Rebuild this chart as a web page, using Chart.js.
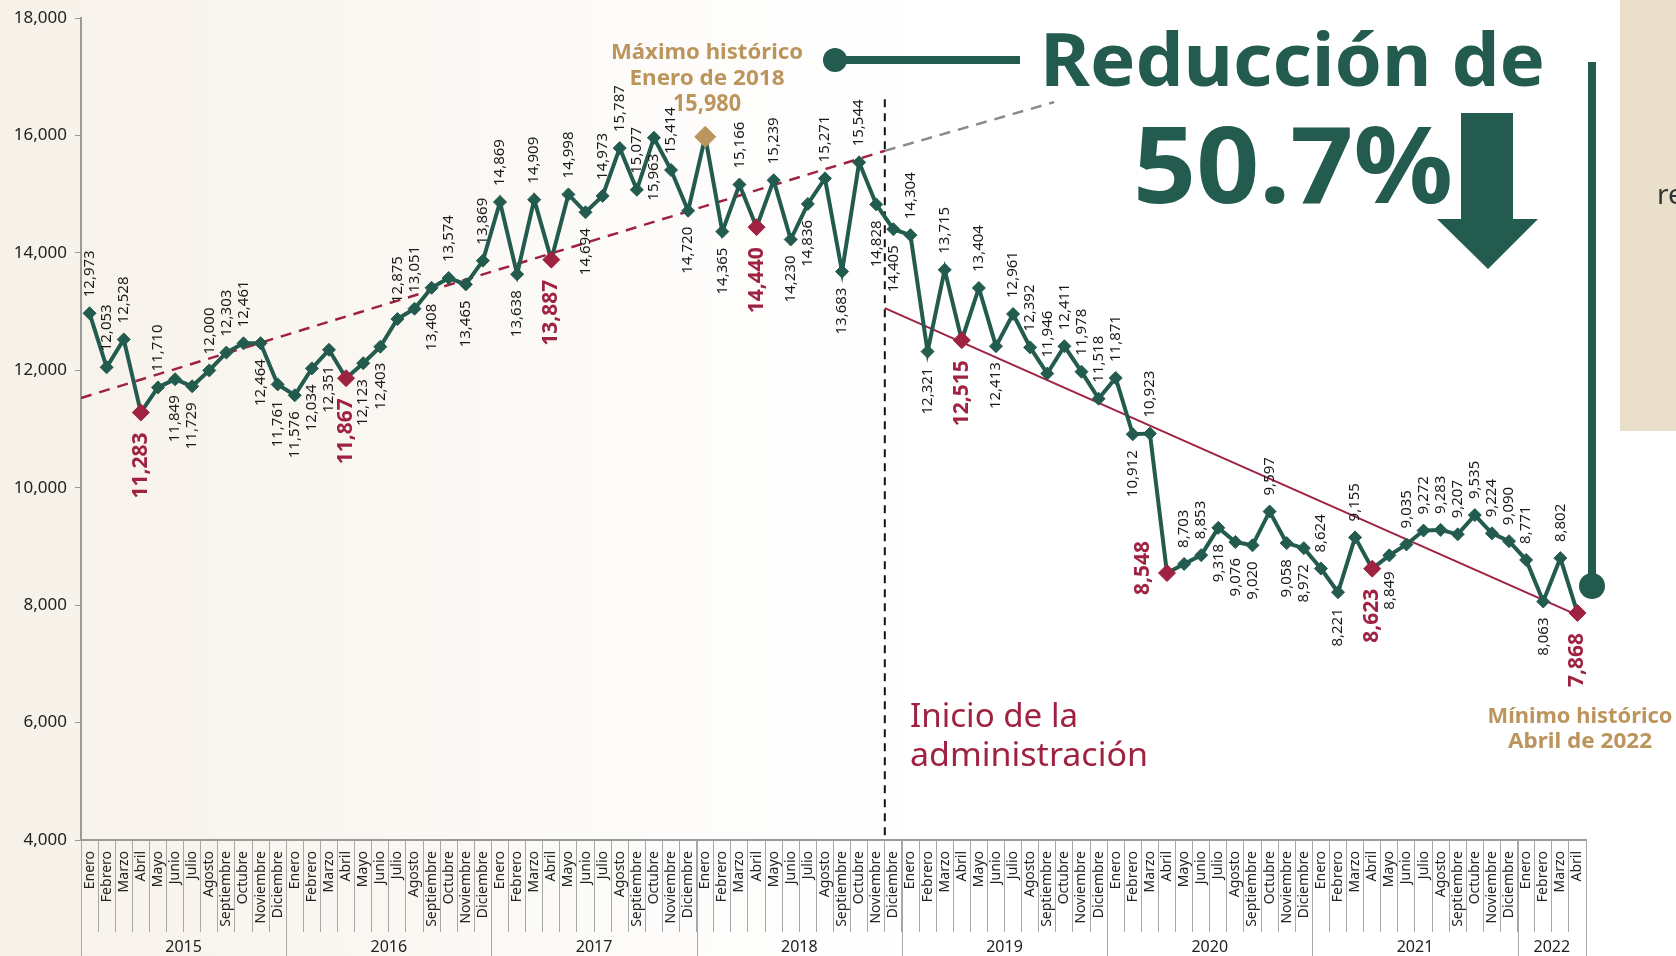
<!DOCTYPE html>
<html>
<head>
<meta charset="utf-8">
<script src="https://cdn.jsdelivr.net/npm/chart.js@4"></script>
<style>
  html, body { margin: 0; padding: 0; background: #fff; }
  #wrap { width: 1676px; height: 956px; }
</style>
</head>
<body>
<div id="wrap"><canvas id="grafica" width="1676" height="956"></canvas></div>
<script>
// datos mensuales, enero 2015 - abril 2022
var meses = ["Enero","Febrero","Marzo","Abril","Mayo","Junio","Julio","Agosto","Septiembre","Octubre","Noviembre","Diciembre"];
var anios = ["2015","2016","2017","2018","2019","2020","2021","2022"];
var v2015 = [12973,12053,12528,11283,11710,11849,11729,12000,12303,12461,12464,11761];
var v2016 = [11576,12034,12351,11867,12123,12403,12875,13051,13408,13574,13465,13869];
var v2017 = [14869,13638,14909,13887,14998,14694,14973,15787,15077,15963,15414,14720];
var v2018 = [15980,14365,15166,14440,15239,14230,14836,15271,13683,15544,14828,14405];
var v2019 = [14304,12321,13715,12515,13404,12413,12961,12392,11946,12411,11978,11518];
var v2020 = [11871,10912,10923,8548,8703,8853,9318,9076,9020,9597,9058,8972];
var v2021 = [8624,8221,9155,8623,8849,9035,9272,9283,9207,9535,9224,9090];
var v2022 = [8771,8063,8802,7868];
var yTicks = [4000,6000,8000,10000,12000,14000,16000,18000];

// lineas de tendencia (x = indice del mes)
var tendAntes = [{x:-0.5, y:11530}, {x:46.5, y:15740}];
var tendProyeccion = [{x:46.5, y:15740}, {x:56.4, y:16570}];
var tendDespues = [{x:46.5, y:13060}, {x:87, y:7830}];
var inicioAdmin = [{x:46.5, y:16620}, {x:46.5, y:4000}];

// donde va cada etiqueta: a = arriba, b = abajo, l = izquierda
var lado = ("aaababbaaab" + "b" +
            "bbbbbbaababa" +
            "abababaaabab" +
            "-bababbababb" +
            "abababaaaaaa" +
            "ababaabbbabb" +
            "ababbaaaaaaa" +
            "abab").split("");
lado[63] = "l";

var valores = [].concat(v2015, v2016, v2017, v2018, v2019, v2020, v2021, v2022);
var etiquetasX = [];
var tamAnio = [];
[v2015, v2016, v2017, v2018, v2019, v2020, v2021, v2022].forEach(function(arr) {
    tamAnio.push(arr.length);
    for (var i = 0; i < arr.length; i++) etiquetasX.push(meses[i]);
});

var VERDE = "#235B4E", ROJO = "#9F2241", ORO = "#BC955C";
var FUENTE = '"Noto Sans", "Open Sans", sans-serif';

function miles(n) { return String(n).replace(/\B(?=(\d{3})+(?!\d))/g, ","); }

var colores = [], radios = [];
valores.forEach(function(v, i) {
    if (i === 36) { colores.push(ORO); radios.push(10.5); }
    else if (i % 12 === 3) { colores.push(ROJO); radios.push(8.5); }
    else { colores.push(VERDE); radios.push(6.5); }
});

function textoAjustado(ctx, txt, x, y, ancho, font, color, align) {
    ctx.save();
    ctx.font = font;
    ctx.fillStyle = color;
    ctx.textBaseline = "alphabetic";
    ctx.textAlign = align || "left";
    var w = ctx.measureText(txt).width;
    ctx.translate(x, y);
    ctx.scale(ancho / w, 1);
    ctx.fillText(txt, 0, 0);
    ctx.restore();
}

var fondo = {
    id: "fondo",
    beforeDraw: function(chart) {
        var ctx = chart.ctx;
        ctx.save();
        ctx.fillStyle = "#ffffff";
        ctx.fillRect(0, 0, chart.width, chart.height);
        var g = ctx.createLinearGradient(0, 0, 1050, 0);
        g.addColorStop(0, "rgba(236,224,204,0.45)");
        g.addColorStop(0.5, "rgba(240,230,214,0.22)");
        g.addColorStop(1, "rgba(255,255,255,0)");
        ctx.fillStyle = g;
        ctx.fillRect(0, 0, 1050, chart.height);
        // panel beige derecho
        ctx.fillStyle = "#EADFCB";
        ctx.fillRect(1620, 0, 56, 431);
        ctx.fillStyle = "#333";
        ctx.font = "28px " + FUENTE;
        ctx.fillText("re", 1657, 204);
        ctx.restore();
    }
};

var etiquetas = {
    id: "etiquetas",
    afterDatasetsDraw: function(chart) {
        var ctx = chart.ctx;
        var meta = chart.getDatasetMeta(0);
        meta.data.forEach(function(pt, i) {
            var s = lado[i];
            if (!s || s === "-") return;
            var abril = i % 12 === 3;
            var txt = miles(valores[i]);
            ctx.save();
            ctx.font = (abril ? "bold 21px " : "15px ") + FUENTE;
            ctx.fillStyle = abril ? ROJO : "#1a1a1a";
            ctx.textBaseline = "middle";
            if (s === "l") {
                ctx.translate(pt.x - 24, pt.y - 5);
                ctx.rotate(-Math.PI / 2);
                ctx.textAlign = "center";
            } else {
                var gap = abril ? 20 : 16;
                ctx.translate(pt.x, s === "a" ? pt.y - gap : pt.y + gap);
                ctx.rotate(-Math.PI / 2);
                ctx.textAlign = s === "a" ? "left" : "right";
            }
            ctx.fillText(txt, 0, 0);
            ctx.restore();
        });
    }
};

var anotaciones = {
    id: "anotaciones",
    afterDraw: function(chart) {
        var ctx = chart.ctx;
        var xs = chart.scales.x;
        var x2 = chart.scales.x2;
        var area = chart.chartArea;
        ctx.save();
        // meses
        ctx.fillStyle = "#222";
        ctx.font = "14px " + FUENTE;
        ctx.textBaseline = "middle";
        ctx.textAlign = "right";
        etiquetasX.forEach(function(m, i) {
            ctx.save();
            ctx.translate(xs.getPixelForValue(i), area.bottom + 11);
            ctx.rotate(-Math.PI / 2);
            ctx.fillText(m, 0, 0);
            ctx.restore();
        });
        // separadores y etiquetas de anio
        ctx.strokeStyle = "#a8a8a8";
        ctx.lineWidth = 1;
        ctx.fillStyle = "#222";
        ctx.font = "16px " + FUENTE;
        ctx.textAlign = "center";
        ctx.textBaseline = "middle";
        var ini = 0;
        for (var k = 0; k < anios.length; k++) {
            var xa = x2.getPixelForValue(ini - 0.5);
            var xb = x2.getPixelForValue(ini + tamAnio[k] - 0.5);
            ctx.beginPath();
            ctx.moveTo(Math.round(xa) + 0.5, area.bottom);
            ctx.lineTo(Math.round(xa) + 0.5, chart.height);
            ctx.moveTo(Math.round(xb) + 0.5, area.bottom);
            ctx.lineTo(Math.round(xb) + 0.5, chart.height);
            ctx.stroke();
            ctx.fillText(anios[k], (xa + xb) / 2, 947);
            ini += tamAnio[k];
        }

        // maximo historico
        textoAjustado(ctx, "Máximo histórico", 707, 59, 192, "bold 21px " + FUENTE, ORO, "center");
        textoAjustado(ctx, "Enero de 2018", 707, 85, 155, "bold 21px " + FUENTE, ORO, "center");
        textoAjustado(ctx, "15,980", 707, 111, 68, "bold 24px " + FUENTE, ORO, "center");

        // minimo historico
        textoAjustado(ctx, "Mínimo histórico", 1580, 723, 185, "bold 21px " + FUENTE, ORO, "center");
        textoAjustado(ctx, "Abril de 2022", 1580, 748, 144, "bold 21px " + FUENTE, ORO, "center");

        // inicio de la administracion
        textoAjustado(ctx, "Inicio de la", 910, 727, 168, "32px " + FUENTE, ROJO, "left");
        textoAjustado(ctx, "administración", 910, 766, 238, "32px " + FUENTE, ROJO, "left");

        // conector horizontal
        ctx.fillStyle = VERDE;
        ctx.strokeStyle = VERDE;
        ctx.lineWidth = 8;
        ctx.beginPath();
        ctx.moveTo(835, 60);
        ctx.lineTo(1020, 60);
        ctx.stroke();
        ctx.beginPath();
        ctx.arc(835, 60, 12, 0, Math.PI * 2);
        ctx.fill();

        // conector vertical
        ctx.beginPath();
        ctx.moveTo(1592, 62);
        ctx.lineTo(1592, 586);
        ctx.stroke();
        ctx.beginPath();
        ctx.arc(1592, 586, 13, 0, Math.PI * 2);
        ctx.fill();

        // reduccion
        textoAjustado(ctx, "Reducción de", 1040, 86, 505, "bold 74px " + FUENTE, VERDE, "left");
        textoAjustado(ctx, "50.7%", 1133, 203, 320, "bold 106px " + FUENTE, VERDE, "left");

        // flecha
        ctx.beginPath();
        ctx.moveTo(1461, 113);
        ctx.lineTo(1513, 113);
        ctx.lineTo(1513, 219);
        ctx.lineTo(1538, 219);
        ctx.lineTo(1488, 269);
        ctx.lineTo(1437, 219);
        ctx.lineTo(1461, 219);
        ctx.closePath();
        ctx.fill();
        ctx.restore();
    }
};

var ctx = document.getElementById("grafica");
var grafica = new Chart(ctx, {
    type: "line",
    data: {
        labels: etiquetasX,
        datasets: [
            {
                label: "Casos",
                data: valores,
                borderColor: VERDE,
                borderWidth: 4,
                pointStyle: "rectRot",
                pointRadius: radios,
                pointBackgroundColor: colores,
                pointBorderColor: colores,
                pointBorderWidth: 1,
                tension: 0,
                order: 0
            },
            {
                label: "Tendencia previa",
                data: tendAntes,
                xAxisID: "x2",
                borderColor: ROJO,
                borderWidth: 2.5,
                borderDash: [11, 8],
                pointRadius: 0,
                order: 1
            },
            {
                label: "Proyeccion",
                data: tendProyeccion,
                xAxisID: "x2",
                borderColor: "#8a8a8a",
                borderWidth: 2.5,
                borderDash: [11, 8],
                pointRadius: 0,
                order: 1
            },
            {
                label: "Tendencia actual",
                data: tendDespues,
                xAxisID: "x2",
                borderColor: ROJO,
                borderWidth: 2,
                pointRadius: 0,
                order: 1
            },
            {
                label: "Inicio",
                data: inicioAdmin,
                xAxisID: "x2",
                borderColor: "#111",
                borderWidth: 2,
                borderDash: [8, 6],
                pointRadius: 0,
                order: 1
            }
        ]
    },
    options: {
        responsive: false,
        animation: false,
        devicePixelRatio: 1,
        layout: { padding: { top: 18, right: 90, bottom: 24, left: 0 } },
        plugins: {
            legend: { display: false },
            tooltip: { enabled: false }
        },
        scales: {
            x: {
                type: "category",
                offset: true,
                border: { color: "#9a9a9a", width: 2 },
                grid: { offset: true, drawOnChartArea: false, tickLength: 92, color: "#a8a8a8", lineWidth: 1 },
                ticks: { display: false, autoSkip: false }
            },
            x2: { type: "linear", display: false, min: -0.5, max: 87.5 },
            y: {
                min: 4000, max: 18000,
                afterBuildTicks: function(s) { s.ticks = yTicks.map(function(v) { return { value: v }; }); },
                afterFit: function(s) { s.width = 81; },
                border: { color: "#9a9a9a", width: 2 },
                grid: { drawOnChartArea: false, tickLength: 6, color: "#9a9a9a" },
                ticks: {
                    padding: 8, color: "#222", font: { family: FUENTE, size: 17 },
                    callback: function(v) { return miles(v); }
                }
            }
        }
    },
    plugins: [fondo, etiquetas, anotaciones]
});
</script>
</body>
</html>
